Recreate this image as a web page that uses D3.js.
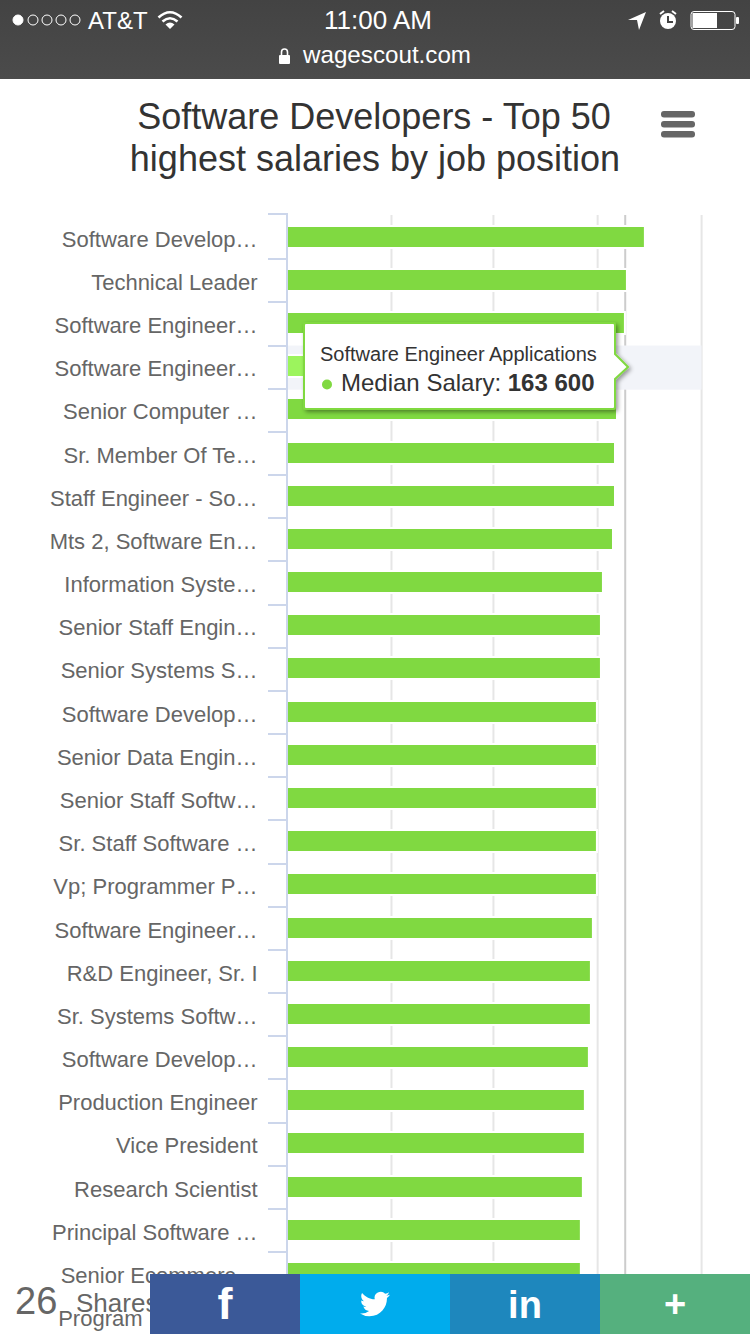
<!DOCTYPE html>
<html>
<head>
<meta charset="utf-8">
<title>Software Developers - Top 50</title>
<style>
  html, body { margin: 0; padding: 0; background: #fff; overflow: hidden; }
  svg { display: block; font-family: "Liberation Sans", Arial, sans-serif; }
</style>
</head>
<body>
<svg id="chart" width="750" height="1334"></svg>
<script src="https://cdn.jsdelivr.net/npm/d3@7"></script>
<script>
const titleLines = ["Software Developers - Top 50", "highest salaries by job position"];

const categories = [
  "Software Develop…", "Technical Leader", "Software Engineer…", "Software Engineer…",
  "Senior Computer …", "Sr. Member Of Te…", "Staff Engineer - So…", "Mts 2, Software En…",
  "Information Syste…", "Senior Staff Engin…", "Senior Systems S…", "Software Develop…",
  "Senior Data Engin…", "Senior Staff Softw…", "Sr. Staff Software …", "Vp; Programmer P…",
  "Software Engineer…", "R&D Engineer, Sr. I", "Sr. Systems Softw…", "Software Develop…",
  "Production Engineer", "Vice President", "Research Scientist", "Principal Software …",
  "Senior Ecommerc…", "Program Manager…"
];

const salaries = [
  177300, 168350, 167350, 163600, 163400, 162400, 162400, 161400, 156400, 155400,
  155400, 153400, 153400, 153400, 153400, 153400, 151400, 150400, 150400, 149400,
  147400, 147400, 146400, 145400, 145400, 145000
];

const gridValues = [51300, 102100, 154000, 205800];
const plotLineValue = 168000;

const tooltipIndex = 3;
const tooltipName = "Software Engineer Applications";
const tooltipLabel = "Median Salary: ";
const tooltipValue = "163 600";

const svg = d3.select("#chart");

const x = d3.scaleLinear().domain([0, 206000]).range([288, 701.5]);
const y = d3.scaleBand().domain(d3.range(categories.length)).range([216, 216 + 43.17 * categories.length]);

const plotTop = 215;
const plotBottom = 1334;
const barHeight = 20;
const barColor = "#80d941";

const barTop = i => Math.round(y(i) + (y.bandwidth() - barHeight) / 2 - 0.8);

// status bar and address bar
const defs = svg.append("defs");
const headGrad = defs.append("linearGradient").attr("id", "head").attr("x2", 0).attr("y2", 1);
headGrad.append("stop").attr("offset", 0).attr("stop-color", "#434343");
headGrad.append("stop").attr("offset", 1).attr("stop-color", "#4b4b4b");
const shadow = defs.append("filter").attr("id", "tipShadow")
  .attr("x", "-10%").attr("y", "-15%").attr("width", "125%").attr("height", "135%");
shadow.append("feDropShadow").attr("dx", 2).attr("dy", 2).attr("stdDeviation", 2)
  .attr("flood-color", "#000").attr("flood-opacity", 0.4);

svg.append("rect").attr("width", 750).attr("height", 79).attr("fill", "url(#head)");

const head = svg.append("g").attr("fill", "#fff");
[18, 33, 47, 61, 75].forEach((cx, i) => {
  head.append("circle")
    .attr("cx", cx)
    .attr("cy", 20)
    .attr("r", 5)
    .attr("fill", i === 0 ? "#fff" : "none")
    .attr("stroke", "#fff")
    .attr("stroke-width", 1);
});
head.append("text").attr("x", 88).attr("y", 29).attr("font-size", 24).text("AT&T");

// wifi
const wifi = head.append("g").attr("fill", "none").attr("stroke", "#fff").attr("stroke-width", 2.6);
wifi.append("path").attr("d", "M158.5 17.5 Q170 7 181.5 17.5");
wifi.append("path").attr("d", "M162.5 21.5 Q170 15 177.5 21.5");
head.append("path").attr("d", "M165.5 24.5 Q170 20.5 174.5 24.5 L170 29 Z");

head.append("text").attr("x", 378).attr("y", 29).attr("font-size", 26).attr("text-anchor", "middle").text("11:00 AM");

// location arrow, alarm, battery
head.append("path").attr("d", "M646 12 L628 20 L637 20 L639 30 Z");
head.append("circle").attr("cx", 668).attr("cy", 21).attr("r", 8);
head.append("path").attr("d", "M668 16 V22 H673").attr("fill", "none").attr("stroke", "#444").attr("stroke-width", 2);
head.append("path").attr("d", "M660 14 L664 11 M676 14 L672 11").attr("stroke", "#fff").attr("stroke-width", 2);
head.append("rect").attr("x", 691).attr("y", 11.5).attr("width", 44).attr("height", 18)
  .attr("rx", 3).attr("fill", "none").attr("stroke", "#fff").attr("stroke-width", 1);
head.append("rect").attr("x", 692.5).attr("y", 13).attr("width", 24.5).attr("height", 15);
head.append("rect").attr("x", 736).attr("y", 17).attr("width", 3).attr("height", 7).attr("rx", 1);

// lock and url
head.append("rect").attr("x", 279).attr("y", 55).attr("width", 11).attr("height", 9).attr("rx", 1);
head.append("path").attr("d", "M281.5 55 V52 A3 3 0 0 1 287.5 52 V55").attr("fill", "none").attr("stroke", "#fff").attr("stroke-width", 1.6);
head.append("text").attr("x", 387).attr("y", 63).attr("font-size", 24.2).attr("text-anchor", "middle").text("wagescout.com");

// title
svg.append("g").selectAll("text").data(titleLines).join("text")
  .attr("x", (d, i) => i === 0 ? 374 : 375)
  .attr("y", (d, i) => 129 + i * 42)
  .attr("text-anchor", "middle")
  .attr("font-size", 36)
  .attr("fill", "#333")
  .text(d => d);

// hamburger button
svg.append("g").selectAll("rect").data(d3.range(3)).join("rect")
  .attr("x", 661).attr("y", i => 111 + i * 10)
  .attr("width", 34).attr("height", 6.5).attr("rx", 3)
  .attr("fill", "#666");

// grid
svg.append("g")
  .attr("transform", `translate(0,${plotTop})`)
  .call(d3.axisBottom(x).tickValues(gridValues).tickSize(plotBottom - plotTop).tickFormat(""))
  .call(g => g.select(".domain").remove())
  .call(g => g.selectAll("line").attr("stroke", "#e6e6e6").attr("stroke-width", 2));

svg.append("line")
  .attr("x1", x(plotLineValue)).attr("x2", x(plotLineValue))
  .attr("y1", plotTop).attr("y2", plotBottom)
  .attr("stroke", "#cccccc").attr("stroke-width", 2);

// hover band
svg.append("rect")
  .attr("x", x(0)).attr("width", x(206000) - x(0))
  .attr("y", y(tooltipIndex)).attr("height", y.bandwidth() + 1)
  .attr("fill", "#f2f4f9");

// bars, the white stroke leaves the small gap in the grid lines around each bar
svg.append("g").selectAll("rect").data(salaries).join("rect")
  .attr("x", x(0))
  .attr("y", (d, i) => barTop(i))
  .attr("width", d => x(d) - x(0))
  .attr("height", barHeight)
  .attr("fill", (d, i) => i === tooltipIndex ? "#9cf45d" : barColor)
  .attr("stroke", "#fff")
  .attr("stroke-width", 4)
  .attr("paint-order", "stroke");

// category axis, ticks sit on the band edges
const axisColor = "#ccd6eb";
const axisX = x(0) - 1;
svg.append("line")
  .attr("x1", axisX).attr("x2", axisX)
  .attr("y1", plotTop - 2).attr("y2", plotBottom)
  .attr("stroke", axisColor).attr("stroke-width", 2);

svg.append("g").selectAll("line").data(categories).join("line")
  .attr("x1", axisX - 19).attr("x2", axisX)
  .attr("y1", (d, i) => i === 0 ? 214 : Math.round(y(i)))
  .attr("y2", (d, i) => i === 0 ? 214 : Math.round(y(i)))
  .attr("stroke", axisColor).attr("stroke-width", 2);

svg.append("g").selectAll("text").data(categories).join("text")
  .attr("x", 257.5)
  .attr("y", (d, i) => barTop(i) + barHeight / 2 + 9.7)
  .attr("text-anchor", "end")
  .attr("font-size", 22)
  .attr("fill", "#666")
  .text(d => d);

// tooltip
const tip = svg.append("g");
tip.append("path")
  .attr("d", "M306 323 H613 Q615 323 615 325 V354 L628 367 L615 379 V407 Q615 409 613 409 H306 Q304 409 304 407 V325 Q304 323 306 323 Z")
  .attr("fill", "#fff")
  .attr("stroke", barColor)
  .attr("stroke-width", 2)
  .attr("filter", "url(#tipShadow)");
tip.append("text").attr("x", 320).attr("y", 361).attr("font-size", 20).attr("fill", "#333").text(tooltipName);
tip.append("circle").attr("cx", 327).attr("cy", 384.5).attr("r", 5).attr("fill", barColor);
const tipLine = tip.append("text").attr("x", 341).attr("y", 391).attr("font-size", 24).attr("fill", "#333");
tipLine.append("tspan").text(tooltipLabel);
tipLine.append("tspan").attr("font-weight", "bold").text(tooltipValue);

// share bar
svg.append("text").attr("x", 15).attr("y", 1314).attr("font-size", 38).attr("fill", "#666").text("26");
svg.append("text").attr("x", 76).attr("y", 1312).attr("font-size", 26).attr("fill", "#666").text("Shares");

const shareColors = ["#3b5998", "#00aced", "#1e87bd", "#55b07e"];
svg.append("g").selectAll("rect").data(shareColors).join("rect")
  .attr("x", (d, i) => 150 + i * 150).attr("y", 1274)
  .attr("width", 150).attr("height", 60)
  .attr("fill", d => d);

svg.append("text").attr("x", 225).attr("y", 1319).attr("font-size", 45).attr("font-weight", "bold")
  .attr("text-anchor", "middle").attr("fill", "#fff").text("f");
svg.append("path")
  .attr("transform", "translate(360,1289) scale(1.25)")
  .attr("fill", "#fff")
  .attr("d", "M23.953 4.57a10 10 0 01-2.825.775 4.958 4.958 0 002.163-2.723c-.951.555-2.005.959-3.127 1.184a4.92 4.92 0 00-8.384 4.482C7.69 8.095 4.067 6.13 1.64 3.162a4.822 4.822 0 00-.666 2.475c0 1.71.87 3.213 2.188 4.096a4.904 4.904 0 01-2.228-.616v.06a4.923 4.923 0 003.946 4.827 4.996 4.996 0 01-2.212.085 4.936 4.936 0 004.604 3.417 9.867 9.867 0 01-6.102 2.105c-.39 0-.779-.023-1.17-.067a13.995 13.995 0 007.557 2.209c9.053 0 13.998-7.496 13.998-13.985 0-.21 0-.42-.015-.63A9.935 9.935 0 0024 4.59z");
svg.append("text").attr("x", 525).attr("y", 1318).attr("font-size", 38).attr("font-weight", "bold")
  .attr("text-anchor", "middle").attr("fill", "#fff").text("in");
svg.append("text").attr("x", 675).attr("y", 1317).attr("font-size", 38).attr("font-weight", "bold")
  .attr("text-anchor", "middle").attr("fill", "#fff").text("+");
</script>
</body>
</html>
